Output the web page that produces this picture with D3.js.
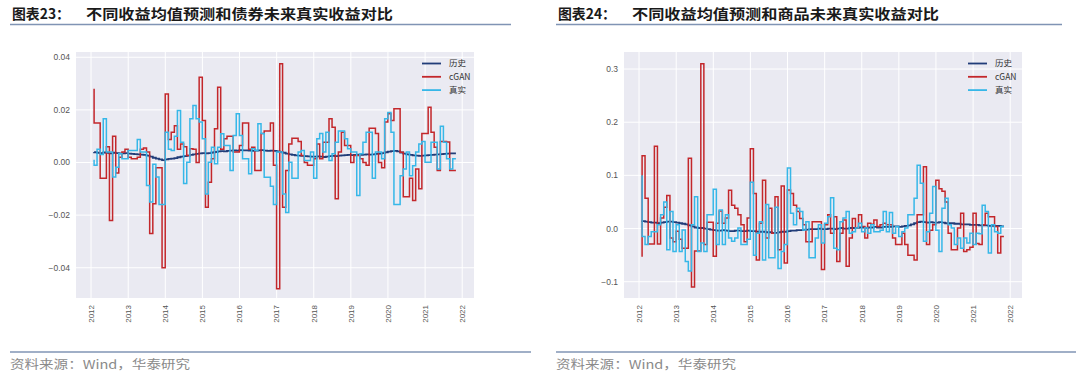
<!DOCTYPE html>
<html>
<head>
<meta charset="utf-8">
<script src="https://cdn.jsdelivr.net/npm/d3@7"></script>
<style>
  body { margin: 0; background: #fff; }
  svg { display: block; font-family: "Noto Sans CJK SC", "Noto Sans", sans-serif; }
</style>
</head>
<body>
<svg id="chart" width="1080" height="378"></svg>
<script>
// monthly, month-end, 2012-01 .. 2021-10
const monthCount = 118;
const months = d3.range(monthCount).map(i => new Date(2012, i + 1, 0));
const yearTicks = d3.range(2012, 2023);
const seriesNames = ["历史", "cGAN", "真实"];

// 债券
const bondHist = [
  0.0040, 0.0039, 0.0037, 0.0036, 0.0038, 0.0037, 0.0035, 0.0037, 0.0036, 0.0035,
  0.0035, 0.0036, 0.0034, 0.0033, 0.0032, 0.0031, 0.0030, 0.0029, 0.0026, 0.0022,
  0.0018, 0.0015, 0.0012, 0.0009, 0.0012, 0.0014, 0.0015, 0.0017, 0.0020, 0.0022,
  0.0024, 0.0026, 0.0029, 0.0031, 0.0033, 0.0035, 0.0036, 0.0035, 0.0036, 0.0038,
  0.0040, 0.0042, 0.0043, 0.0042, 0.0044, 0.0045, 0.0046, 0.0045, 0.0047, 0.0046,
  0.0046, 0.0045, 0.0044, 0.0045, 0.0046, 0.0047, 0.0045, 0.0044, 0.0045, 0.0044,
  0.0042, 0.0040, 0.0037, 0.0034, 0.0031, 0.0029, 0.0027, 0.0026, 0.0025, 0.0024,
  0.0023, 0.0022, 0.0022, 0.0023, 0.0022, 0.0021, 0.0022, 0.0024, 0.0025, 0.0024,
  0.0026, 0.0027, 0.0028, 0.0029, 0.0028, 0.0029, 0.0030, 0.0029, 0.0030, 0.0031,
  0.0030, 0.0031, 0.0033, 0.0034, 0.0036, 0.0039, 0.0041, 0.0043, 0.0044, 0.0042,
  0.0038, 0.0034, 0.0031, 0.0029, 0.0027, 0.0026, 0.0025, 0.0026, 0.0027, 0.0028,
  0.0029, 0.0030, 0.0031, 0.0032, 0.0033, 0.0034, 0.0035, 0.0035
];
const bondCgan = [
  0.028, 0.015, 0.015, -0.006, -0.006, 0.006, -0.022, 0.010, -0.004, 0.002,
  0.004, 0.005, 0.002, 0.0014, 0.0014, 0.002, 0.005, 0.0055, 0.004, -0.027,
  -0.0157, -0.002, -0.002, -0.040, 0.026, 0.0087, 0.0115, 0.014, 0.005, 0.007,
  0.006, 0.0027, 0.0052, 0.005, 0.000, 0.0324, 0.016, -0.017, -0.0075, 0.0014,
  0.0128, 0.0286, 0.005, 0.009, 0.010, 0.010, 0.004, 0.004, 0.0065, 0.015,
  0.015, 0.005, 0.0058, -0.003, -0.003, 0.011, 0.012, 0.012, 0.015, -0.001,
  -0.048, 0.0375, -0.017, -0.003, 0.007, 0.0092, 0.0092, 0.008, 0.0027, 0.000,
  -0.001, -0.001, 0.0014, 0.007, 0.0014, 0.0077, 0.0077, 0.0166, 0.0134, -0.0138,
  0.004, 0.0115, 0.0065, 0.0065, 0.000, 0.0027, 0.0027, 0.0014, 0.000, -0.001,
  0.013, 0.013, 0.011, 0.000, -0.002, 0.0154, 0.0185, 0.016, 0.0204, 0.0204,
  0.0039, -0.013, -0.013, -0.006, -0.0144, -0.0025, -0.010, 0.011, 0.011, 0.021,
  0.0115, 0.0058, -0.003, 0.008, 0.008, 0.0078, -0.003, -0.003
];
const bondReal = [
  0.001, -0.001, 0.005, 0.003, 0.0166, 0.004, 0.004, -0.0055, -0.0018, 0.0033,
  0.0014, 0.0014, 0.0046, 0.0046, 0.0046, 0.0087, 0.004, 0.004, -0.0087, -0.015,
  -0.0007, -0.0055, -0.016, -0.016, 0.0115, 0.005, 0.0046, 0.010, 0.0198, 0.0077,
  -0.008, 0.0001, 0.0166, 0.0217, 0.0166, 0.0154, 0.009, -0.012, 0.0001, 0.0058,
  -0.0005, 0.0058, 0.0109, 0.0065, 0.0065, -0.003, 0.0103, 0.0185, 0.0103, 0.0014,
  0.0014, -0.0043, 0.0052, 0.0046, 0.0147, 0.011, -0.0056, -0.0056, -0.009, -0.016,
  0.004, 0.004, -0.012, -0.019, 0.0001, -0.006, -0.006, 0.004, 0.0046, 0.0008,
  0.0008, 0.004, -0.006, 0.009, 0.011, 0.004, 0.0115, 0.0008, 0.0033, 0.0077,
  0.012, 0.012, 0.009, 0.0052, 0.004, 0.004, -0.0125, 0.0033, 0.0077, 0.0115,
  0.0115, -0.006, 0.004, 0.004, 0.0014, 0.0166, 0.019, 0.0115, -0.016, -0.016,
  -0.005, -0.0025, 0.004, -0.005, -0.0012, 0.004, 0.007, 0.008, 0.0001, 0.0001,
  0.0077, 0.0077, -0.0025, 0.0138, 0.0077, 0.0014, -0.0025, 0.0014
];

// 商品
const commHist = [
  0.015, 0.014, 0.013, 0.012, 0.011, 0.011, 0.010, 0.011, 0.012, 0.013,
  0.013, 0.012, 0.011, 0.010, 0.009, 0.008, 0.006, 0.004, 0.002, 0.001,
  0.001, 0.000, -0.001, -0.002, -0.003, -0.004, -0.004, -0.003, -0.004, -0.005,
  -0.005, -0.004, -0.004, -0.005, -0.005, -0.004, -0.005, -0.005, -0.006, -0.006,
  -0.006, -0.007, -0.007, -0.008, -0.008, -0.007, -0.006, -0.006, -0.005, -0.004,
  -0.004, -0.003, -0.003, -0.002, -0.002, -0.001, -0.001, -0.001, 0.000, -0.001,
  -0.001, 0.000, 0.000, -0.001, 0.000, 0.001, 0.000, 0.000, 0.001, 0.001,
  0.001, 0.002, 0.002, 0.001, 0.002, 0.002, 0.003, 0.002, 0.002, 0.003,
  0.003, 0.003, 0.004, 0.004, 0.003, 0.004, 0.005, 0.006, 0.008, 0.010,
  0.012, 0.013, 0.012, 0.011, 0.012, 0.011, 0.011, 0.012, 0.011, 0.010,
  0.010, 0.010, 0.009, 0.009, 0.008, 0.008, 0.008, 0.007, 0.007, 0.007,
  0.006, 0.006, 0.006, 0.005, 0.005, 0.005, 0.005, 0.004
];
const commCgan = [
  -0.053, 0.137, 0.057, -0.029, -0.029, 0.155, -0.029, 0.02, 0.04, 0.062,
  -0.018, -0.025, -0.005, -0.02, -0.037, -0.037, 0.132, -0.11, -0.042, -0.042,
  0.31, -0.03, 0.012, 0.012, -0.052, 0.01, 0.033, 0.01, 0.02, 0.072,
  0.044, 0.038, 0.026, 0.007, -0.025, 0.02, 0.15, 0.066, -0.059, 0.01,
  0.091, -0.018, 0.038, -0.009, 0.06, -0.04, 0.08, -0.065, 0.0725, 0.066,
  0.044, 0.032, 0.019, 0.007, -0.025, -0.025, 0.013, 0.013, 0.013, -0.077,
  0.007, 0.026, -0.009, 0.022, -0.062, -0.009, 0.016, -0.071, -0.018, 0.019,
  0.001, 0.026, 0.004, -0.018, 0.01, 0.008, 0.016, 0.004, 0.007, 0.01,
  0.007, 0.007, -0.018, -0.03, -0.03, -0.009, -0.03, -0.05, -0.05, -0.059,
  0.026, 0.026, 0.116, -0.03, -0.003, 0.007, 0.091, 0.075, 0.07, 0.05,
  -0.009, -0.04, -0.04, 0.001, 0.029, -0.043, -0.04, -0.035, 0.029, -0.028,
  -0.03, 0.007, 0.029, 0.022, 0.022, 0.004, -0.046, -0.015
];
const commReal = [
  0.1, -0.015, -0.03, -0.015, -0.006, -0.006, 0.007, 0.026, 0.05, -0.04,
  0.032, -0.043, 0.007, -0.043, -0.0025, -0.062, -0.08, 0.007, 0.06, -0.043,
  -0.027, -0.043, 0.026, 0.026, 0.074, -0.03, 0.035, -0.03, 0.026, -0.018,
  -0.024, -0.018, 0.001, -0.03, -0.03, -0.02, 0.087, -0.05, -0.009, 0.013,
  -0.059, 0.045, -0.055, -0.055, 0.04, -0.075, -0.043, -0.03, 0.114, 0.029,
  0.007, 0.038, 0.032, -0.0025, 0.013, -0.055, -0.055, -0.018, 0.007, -0.027,
  0.01, 0.022, 0.058, -0.037, -0.04, 0.013, 0.02, 0.032, -0.009, -0.006,
  0.001, 0.01, -0.006, 0.001, -0.009, 0.007, -0.006, -0.006, -0.003, 0.032,
  -0.006, 0.03, -0.009, 0.004, -0.015, -0.006, 0.001, 0.026, 0.026, 0.057,
  0.119, 0.085, -0.024, -0.006, 0.029, 0.079, -0.003, -0.043, 0.038, 0.057,
  0.007, 0.001, -0.03, -0.018, -0.037, -0.018, -0.027, -0.009, -0.03, -0.009,
  -0.01, 0.044, 0.032, -0.046, 0.007, -0.006, -0.009, 0.004
];

const bondTicks = [0.04, 0.02, 0.00, -0.02, -0.04];
const commTicks = [0.3, 0.2, 0.1, 0.0, -0.1];

const colors = ["#213d79", "#c3272b", "#36b7e8"];
const svg = d3.select("#chart");

function drawPanel(cfg) {
    const g = svg.append("g");

    // title
    g.append("text")
        .attr("x", cfg.left + 2).attr("y", 19)
        .attr("font-size", 14).attr("font-weight", 700).attr("fill", "#1a1a1a")
        .attr("textLength", 58).attr("lengthAdjust", "spacingAndGlyphs")
        .text(cfg.label);
    g.append("text")
        .attr("x", cfg.left + 76).attr("y", 19)
        .attr("font-size", 14).attr("font-weight", 700).attr("fill", "#1a1a1a")
        .attr("textLength", 307).attr("lengthAdjust", "spacingAndGlyphs")
        .text(cfg.title);
    g.append("line")
        .attr("x1", cfg.left).attr("x2", cfg.titleRule)
        .attr("y1", 24.5).attr("y2", 24.5)
        .attr("stroke", "#8094b4").attr("stroke-width", 1.6);

    // plot area
    const x0 = months[0], x1 = months[monthCount - 1];
    const pad = (x1 - x0) * 0.05;
    const x = d3.scaleTime()
        .domain([new Date(+x0 - pad), new Date(+x1 + pad)])
        .range([cfg.plotX, cfg.plotX + 398]);
    const y = d3.scaleLinear().domain(cfg.yDomain).range([298, 52]);

    g.append("rect")
        .attr("x", cfg.plotX).attr("y", 52)
        .attr("width", 398).attr("height", 246)
        .attr("fill", "#eaeaf2");

    const years = yearTicks.map(yr => new Date(yr, 0, 1));
    g.selectAll(".vgrid").data(years).enter().append("line")
        .attr("x1", d => x(d)).attr("x2", d => x(d))
        .attr("y1", 52).attr("y2", 298)
        .attr("stroke", "#fff").attr("stroke-width", 1);
    g.selectAll(".hgrid").data(cfg.yTicks).enter().append("line")
        .attr("x1", cfg.plotX).attr("x2", cfg.plotX + 398)
        .attr("y1", d => y(d)).attr("y2", d => y(d))
        .attr("stroke", "#fff").attr("stroke-width", 1);

    // tick labels
    g.selectAll(".ylab").data(cfg.yTicks).enter().append("text")
        .attr("x", cfg.plotX - 6).attr("y", d => y(d)).attr("dy", "0.35em")
        .attr("text-anchor", "end")
        .attr("font-family", "Liberation Sans, Arial, sans-serif")
        .attr("font-size", 8.5).attr("fill", "#555")
        .text(d => d3.format(cfg.fmt)(d));
    g.selectAll(".xlab").data(years).enter().append("text")
        .attr("transform", d => `translate(${x(d)},305) rotate(-90)`)
        .attr("dy", "0.35em").attr("text-anchor", "end")
        .attr("font-family", "Liberation Sans, Arial, sans-serif")
        .attr("font-size", 8).attr("fill", "#555")
        .text(d => d.getFullYear());

    // series
    const line = d3.line()
        .x((d, i) => x(months[i]))
        .y(d => y(d))
        .curve(d3.curveStepBefore);
    cfg.series.forEach((s, k) => {
        g.append("path")
            .datum(s)
            .attr("d", line)
            .attr("fill", "none")
            .attr("stroke", colors[k])
            .attr("stroke-width", k === 0 ? 1.8 : 1.5)
            .attr("stroke-linejoin", "miter");
    });

    // legend
    const legend = g.append("g").attr("transform", `translate(${cfg.legendX},63.5)`);
    seriesNames.forEach((name, k) => {
        legend.append("line")
            .attr("x1", 0).attr("x2", 19)
            .attr("y1", k * 13.3).attr("y2", k * 13.3)
            .attr("stroke", colors[k]).attr("stroke-width", 1.8);
        legend.append("text")
            .attr("x", 27).attr("y", k * 13.3).attr("dy", "0.35em")
            .attr("font-size", 8.5).attr("fill", "#333")
            .text(name);
    });

    // source
    g.append("line")
        .attr("x1", cfg.left).attr("x2", cfg.bottomRule)
        .attr("y1", 352).attr("y2", 352)
        .attr("stroke", "#8094b4").attr("stroke-width", 1.4);
    g.append("text")
        .attr("x", cfg.left).attr("y", 369)
        .attr("font-size", 12).attr("fill", "#8a8a8a")
        .attr("textLength", 180).attr("lengthAdjust", "spacingAndGlyphs")
        .text("资料来源：Wind，华泰研究");
}

drawPanel({
    left: 10, titleRule: 511, bottomRule: 531,
    label: "图表23：",
    title: "不同收益均值预测和债券未来真实收益对比",
    plotX: 76, legendX: 422,
    yDomain: [-0.0515, 0.042], yTicks: bondTicks, fmt: ".2f",
    series: [bondHist, bondCgan, bondReal]
});

drawPanel({
    left: 556, titleRule: 1062, bottomRule: 1076,
    label: "图表24：",
    title: "不同收益均值预测和商品未来真实收益对比",
    plotX: 624, legendX: 968,
    yDomain: [-0.1306, 0.332], yTicks: commTicks, fmt: ".1f",
    series: [commHist, commCgan, commReal]
});
</script>
</body>
</html>
